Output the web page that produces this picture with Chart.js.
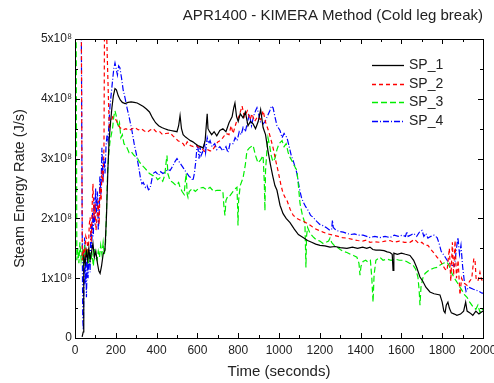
<!DOCTYPE html>
<html>
<head>
<meta charset="utf-8">
<script src="https://cdn.jsdelivr.net/npm/chart.js@4"></script>
<style>
  html, body { margin: 0; padding: 0; background: #fff; }
  #wrap { width: 494px; height: 383px; }
</style>
</head>
<body>
<div id="wrap"><canvas id="chart" width="494" height="383"></canvas></div>
<script>
// values in units of 1x10^8 J/s, time in seconds
const seriesNames = ['SP_1', 'SP_2', 'SP_3', 'SP_4'];
const xTicks = [0, 200, 400, 600, 800, 1000, 1200, 1400, 1600, 1800, 2000];
const yTicks = [0, 1, 2, 3, 4, 5];

const sp1 = [[35,0.02],[40,0.1],[43,1.35],[50,1.25],[56,1.45],[62,1.3],[68,1.5],[74,1.3],[80,1.42],[88,1.58],[95,1.35],[102,1.45],[110,1.25],[117,1.12],[123,1.08],[130,1.2],[138,1.4],[147,1.47],[155,2.1],[161,2.8],[167,3.3],[174,3.6],[181,3.85],[188,4.05],[196,4.17],[203,4.15],[212,4.05],[222,3.98],[232,3.94],[245,3.92],[260,3.94],[275,3.95],[290,3.94],[305,3.93],[320,3.9],[335,3.87],[350,3.83],[365,3.78],[380,3.68],[395,3.6],[410,3.55],[425,3.52],[440,3.5],[455,3.48],[470,3.47],[485,3.46],[500,3.45],[508,3.55],[515,3.72],[522,3.5],[530,3.4],[542,3.36],[554,3.33],[566,3.3],[578,3.28],[590,3.25],[602,3.22],[615,3.2],[628,3.18],[638,3.3],[645,3.62],[648,3.75],[652,3.5],[660,3.45],[670,3.4],[682,3.45],[695,3.38],[710,3.47],[725,3.5],[740,3.45],[755,3.6],[770,3.7],[778,3.85],[784,3.93],[792,3.7],[800,3.62],[810,3.75],[824,3.68],[835,3.78],[848,3.55],[860,3.62],[873,3.58],[885,3.5],[898,3.62],[910,3.82],[922,3.52],[934,3.4],[946,3.13],[958,2.9],[970,2.7],[980,2.55],[990,2.47],[1005,2.22],[1020,2.08],[1035,2.0],[1054,1.93],[1075,1.82],[1095,1.73],[1118,1.68],[1140,1.63],[1160,1.6],[1180,1.57],[1201,1.55],[1225,1.54],[1250,1.52],[1275,1.53],[1300,1.51],[1333,1.5],[1360,1.52],[1385,1.5],[1410,1.52],[1430,1.5],[1446,1.52],[1460,1.48],[1475,1.47],[1495,1.47],[1515,1.46],[1530,1.44],[1544,1.43],[1555,1.4],[1559,1.13],[1563,1.42],[1580,1.4],[1600,1.42],[1620,1.4],[1642,1.38],[1660,1.3],[1675,1.18],[1691,1.02],[1705,0.95],[1720,0.85],[1740,0.77],[1760,0.74],[1789,0.72],[1800,0.6],[1808,0.45],[1814,0.42],[1820,0.55],[1828,0.6],[1835,0.5],[1845,0.42],[1860,0.4],[1872,0.38],[1890,0.4],[1905,0.45],[1915,0.6],[1922,0.45],[1936,0.42],[1950,0.38],[1965,0.45],[1980,0.4],[2000,0.45]];

const sp2 = [[30,6],[36,1.3],[42,1.5],[48,1.35],[53,1.7],[59,1.63],[65,1.4],[70,1.9],[74,2.02],[80,1.6],[84,2.2],[88,2.58],[93,2.0],[98,2.25],[103,1.8],[108,2.02],[114,2.3],[118,1.9],[123,2.52],[128,2.3],[132,2.8],[137,2.6],[142,3.18],[146,6.2],[168,3.5],[175,3.6],[185,3.7],[195,3.68],[205,3.62],[220,3.52],[235,3.48],[250,3.5],[265,3.47],[280,3.5],[294,3.52],[310,3.48],[325,3.5],[340,3.46],[355,3.44],[370,3.48],[384,3.5],[400,3.44],[415,3.45],[430,3.4],[445,3.42],[466,3.43],[480,3.38],[490,3.35],[505,3.3],[520,3.27],[530,3.25],[539,3.2],[550,3.28],[565,3.22],[580,3.2],[595,3.22],[610,3.18],[622,3.17],[635,3.12],[650,3.15],[662,3.13],[672,3.13],[685,3.2],[700,3.28],[712,3.3],[725,3.35],[740,3.42],[755,3.4],[765,3.55],[775,3.42],[790,3.6],[805,3.72],[819,3.88],[830,3.7],[845,3.8],[858,3.65],[868,3.75],[880,3.62],[895,3.7],[910,3.65],[922,3.8],[935,3.6],[950,3.45],[962,3.3],[971,3.18],[983,2.98],[995,2.8],[1010,2.55],[1020,2.42],[1030,2.35],[1039,2.3],[1055,2.15],[1070,2.05],[1088,2.0],[1105,1.97],[1120,1.95],[1137,1.92],[1155,1.88],[1175,1.83],[1195,1.8],[1216,1.77],[1240,1.74],[1265,1.72],[1290,1.7],[1310,1.68],[1333,1.67],[1360,1.65],[1385,1.63],[1410,1.62],[1430,1.64],[1446,1.6],[1470,1.61],[1495,1.6],[1520,1.62],[1544,1.63],[1565,1.6],[1590,1.62],[1615,1.6],[1642,1.6],[1665,1.65],[1685,1.58],[1700,1.6],[1715,1.55],[1730,1.55],[1745,1.48],[1760,1.42],[1775,1.35],[1789,1.3],[1805,1.2],[1815,1.15],[1824,1.13],[1835,1.5],[1842,0.95],[1850,1.6],[1856,1.05],[1863,1.63],[1870,1.0],[1878,1.3],[1887,0.72],[1895,1.0],[1905,0.92],[1915,0.9],[1922,0.88],[1935,0.95],[1945,1.0],[1955,1.33],[1961,1.3],[1966,1.0],[1975,0.95],[1985,1.1],[1993,0.97],[2000,0.97]];

const sp3 = [[5,6],[9,1.3],[14,1.5],[19,1.25],[24,1.6],[30,1.3],[36,1.45],[42,1.2],[48,1.55],[54,1.35],[60,1.5],[66,1.25],[72,1.45],[78,1.3],[84,1.4],[90,1.2],[96,1.5],[102,1.35],[108,1.3],[114,1.45],[120,1.35],[126,1.55],[132,1.4],[138,1.6],[144,1.4],[150,1.6],[155,2.2],[160,2.8],[166,3.1],[172,3.3],[178,3.4],[184,3.5],[190,3.7],[196,3.8],[202,3.72],[211,3.52],[218,3.6],[225,3.35],[232,3.4],[240,3.25],[255,3.18],[265,3.1],[275,3.12],[290,3.05],[304,3.02],[315,2.95],[325,2.9],[340,2.85],[353,2.8],[365,2.75],[380,2.72],[395,2.7],[405,2.65],[417,2.68],[430,2.62],[440,2.72],[447,2.95],[451,3.05],[455,2.75],[466,2.63],[480,2.6],[495,2.55],[508,2.6],[515,2.52],[525,2.45],[535,2.4],[540,2.6],[545,2.75],[550,2.4],[554,2.35],[560,2.45],[575,2.5],[590,2.45],[605,2.5],[628,2.52],[645,2.48],[662,2.52],[680,2.45],[696,2.47],[711,2.47],[725,2.45],[730,2.2],[735,2.05],[740,2.3],[750,2.38],[760,2.38],[775,2.45],[787,2.5],[794,2.52],[797,2.2],[799,1.88],[802,2.3],[810,2.55],[824,2.68],[835,2.9],[843,3.13],[855,3.18],[873,3.22],[885,3.05],[897,2.93],[910,2.98],[922,3.05],[928,2.6],[931,2.13],[934,2.8],[940,3.1],[946,3.35],[955,3.2],[962,3.05],[970,2.95],[980,3.0],[990,3.15],[1000,3.25],[1015,3.3],[1025,3.2],[1035,3.25],[1045,3.1],[1054,3.02],[1065,2.95],[1075,2.88],[1088,2.8],[1095,2.55],[1103,2.25],[1115,2.05],[1127,1.92],[1130,1.5],[1132,1.18],[1135,1.7],[1140,1.85],[1152,1.75],[1165,1.7],[1180,1.65],[1200,1.62],[1216,1.58],[1230,1.6],[1243,1.62],[1250,1.67],[1258,1.6],[1270,1.55],[1285,1.52],[1300,1.48],[1315,1.45],[1333,1.43],[1350,1.4],[1365,1.38],[1382,1.35],[1392,1.25],[1397,1.05],[1402,1.2],[1412,1.28],[1425,1.3],[1436,1.27],[1448,1.3],[1455,1.0],[1461,0.6],[1466,1.05],[1475,1.3],[1495,1.35],[1510,1.3],[1530,1.32],[1550,1.3],[1570,1.32],[1590,1.3],[1608,1.3],[1625,1.28],[1640,1.25],[1657,1.22],[1670,1.15],[1681,1.02],[1687,0.8],[1691,0.55],[1696,0.85],[1705,1.0],[1716,1.08],[1730,1.12],[1745,1.15],[1760,1.17],[1775,1.18],[1790,1.22],[1805,1.25],[1824,1.27],[1835,1.2],[1845,1.1],[1860,1.0],[1875,0.92],[1887,0.85],[1900,0.78],[1910,0.72],[1922,0.68],[1935,0.6],[1951,0.52],[1965,0.48],[1975,0.55],[1985,0.43],[1992,0.5],[2000,0.47]];

const sp4 = [[30,6],[35,2.0],[38,0.3],[41,0.13],[44,1.0],[47,1.68],[50,0.9],[53,1.4],[56,0.68],[60,1.3],[64,1.0],[69,1.47],[74,1.1],[78,1.9],[82,1.5],[86,2.1],[90,1.7],[93,2.35],[97,1.9],[101,2.5],[105,2.1],[110,2.45],[114,1.8],[118,2.02],[122,2.7],[127,2.4],[132,3.18],[137,2.6],[142,3.0],[147,2.75],[152,3.2],[157,3.4],[162,3.3],[167,3.63],[172,3.9],[178,4.1],[184,4.3],[190,4.5],[196,4.6],[202,4.5],[208,4.4],[214,4.55],[220,4.52],[228,4.35],[236,4.15],[245,4.02],[255,3.85],[265,3.7],[279,3.47],[290,3.25],[304,3.02],[315,2.8],[322,2.65],[328,2.58],[335,2.6],[345,2.52],[353,2.55],[360,2.48],[368,2.5],[375,2.62],[382,2.75],[395,2.78],[410,2.72],[420,2.78],[431,2.75],[445,2.78],[455,2.82],[466,2.8],[480,2.88],[490,2.95],[500,3.0],[510,2.95],[520,2.9],[530,2.85],[539,2.8],[550,2.75],[560,2.7],[570,2.68],[578,2.63],[585,2.75],[592,2.95],[598,3.2],[603,3.18],[608,3.0],[613,3.2],[618,3.05],[628,3.13],[635,3.25],[640,3.1],[648,3.35],[655,3.25],[662,3.3],[672,3.2],[685,3.25],[695,3.15],[710,3.2],[725,3.13],[740,3.2],[750,3.1],[760,3.25],[775,3.25],[785,3.35],[795,3.3],[805,3.45],[815,3.4],[824,3.52],[835,3.45],[845,3.6],[855,3.75],[865,3.55],[875,3.7],[885,3.8],[892,3.85],[900,3.75],[910,3.6],[922,3.58],[932,3.62],[942,3.7],[955,3.8],[963,3.88],[971,3.85],[980,3.7],[990,3.55],[1005,3.47],[1015,3.35],[1025,3.42],[1039,3.35],[1050,3.2],[1060,3.05],[1069,2.97],[1080,2.85],[1088,2.75],[1100,2.5],[1110,2.35],[1118,2.28],[1130,2.2],[1145,2.12],[1155,2.05],[1167,2.02],[1185,1.95],[1200,1.9],[1215,1.88],[1230,1.85],[1250,1.8],[1258,1.82],[1262,1.97],[1266,1.85],[1280,1.8],[1300,1.78],[1315,1.77],[1333,1.75],[1350,1.73],[1370,1.74],[1390,1.72],[1412,1.72],[1430,1.7],[1446,1.68],[1470,1.7],[1495,1.68],[1520,1.7],[1544,1.68],[1565,1.72],[1585,1.7],[1605,1.72],[1620,1.7],[1627,1.78],[1633,1.7],[1645,1.72],[1660,1.75],[1675,1.7],[1690,1.78],[1701,1.8],[1710,1.7],[1720,1.75],[1730,1.67],[1745,1.7],[1760,1.72],[1775,1.68],[1785,1.58],[1795,1.45],[1805,1.4],[1815,1.35],[1824,1.3],[1835,1.25],[1845,1.22],[1860,1.2],[1870,1.5],[1877,1.68],[1885,1.4],[1892,1.55],[1900,1.2],[1910,0.9],[1917,0.78],[1930,0.85],[1950,0.82],[1965,0.8],[1980,0.78],[1995,0.75],[2000,0.75]];

const colors = ['#000000', '#ff0000', '#00ee00', '#0000ff'];
const dashes = [[], [4, 3], [6, 3], [6, 2, 1, 2]];
const allSeries = [sp1, sp2, sp3, sp4];

const FONT = '"Liberation Sans", Arial, sans-serif';

const datasets = allSeries.map((s, i) => ({
    label: seriesNames[i],
    data: s.map(p => ({ x: p[0], y: p[1] })),
    borderColor: colors[i],
    borderWidth: 1.2,
    borderDash: dashes[i],
    pointRadius: 0,
    tension: 0,
    fill: false
}));

// inward tick marks, frame and in-plot legend
const framePlugin = {
    id: 'frame',
    afterDraw(chart) {
        const ctx = chart.ctx;
        const a = chart.chartArea;
        const xs = chart.scales.x, ys = chart.scales.y;
        ctx.save();
        ctx.strokeStyle = '#000';
        ctx.lineWidth = 1;
        ctx.strokeRect(Math.round(a.left) + 0.5, Math.round(a.top) + 0.5,
            Math.round(a.right - a.left), Math.round(a.bottom - a.top));
        ctx.beginPath();
        for (let v = 0; v <= 5; v += 0.5) {
            const y = Math.round(ys.getPixelForValue(v)) + 0.5;
            const len = Number.isInteger(v) ? 5 : 3;
            ctx.moveTo(a.left, y); ctx.lineTo(a.left + len, y);
            ctx.moveTo(a.right, y); ctx.lineTo(a.right - len, y);
        }
        for (let t = 0; t <= 2000; t += 100) {
            const x = Math.round(xs.getPixelForValue(t)) + 0.5;
            const len = t % 200 === 0 ? 5 : 3;
            ctx.moveTo(x, a.bottom); ctx.lineTo(x, a.bottom - len);
            ctx.moveTo(x, a.top); ctx.lineTo(x, a.top + len);
        }
        ctx.stroke();

        // legend
        ctx.font = '14px ' + FONT;
        ctx.textBaseline = 'middle';
        ctx.textAlign = 'left';
        seriesNames.forEach((name, i) => {
            const y = 65.5 + Math.round(i * 18.5);
            ctx.beginPath();
            ctx.strokeStyle = colors[i];
            ctx.lineWidth = 1.3;
            ctx.setLineDash(dashes[i]);
            ctx.moveTo(372, y); ctx.lineTo(404, y);
            ctx.stroke();
            ctx.setLineDash([]);
            ctx.fillStyle = '#222';
            ctx.fillText(name, 409, y);
        });
        ctx.restore();
    }
};

new Chart(document.getElementById('chart'), {
    type: 'line',
    data: { datasets },
    options: {
        responsive: false,
        animation: false,
        layout: { padding: { left: 0, right: 11, top: 0, bottom: 0 } },
        plugins: {
            legend: { display: false },
            tooltip: { enabled: false },
            title: {
                display: true,
                text: 'APR1400 - KIMERA Method (Cold leg break)',
                align: 'end',
                color: '#222',
                font: { family: FONT, size: 15, weight: 'normal' },
                padding: { top: 7, bottom: 14 }
            }
        },
        scales: {
            x: {
                type: 'linear',
                min: 0, max: 2000,
                grid: { display: false, drawTicks: false },
                border: { display: false },
                afterBuildTicks: s => { s.ticks = xTicks.map(v => ({ value: v })); },
                afterFit: s => { s.height = 45; s.paddingRight = 0; s.paddingLeft = 0; },
                ticks: {
                    color: '#222', padding: 5, maxRotation: 0, autoSkip: false,
                    font: { family: FONT, size: 12 },
                    callback: v => String(v)
                },
                title: {
                    display: true, text: 'Time (seconds)', color: '#222',
                    font: { family: FONT, size: 15 }, padding: 2
                }
            },
            y: {
                min: 0, max: 5,
                grid: { display: false, drawTicks: false },
                border: { display: false },
                afterBuildTicks: s => { s.ticks = yTicks.map(v => ({ value: v })); },
                afterFit: s => { s.width = 75; s.paddingTop = 0; s.paddingBottom = 0; },
                ticks: {
                    color: '#222', padding: 3,
                    font: { family: FONT, size: 12 },
                    callback: v => v === 0 ? '0' : v + 'x10\u2078'
                },
                title: {
                    display: true, text: 'Steam Energy Rate (J/s)', color: '#222',
                    font: { family: FONT, size: 14.5 }, padding: 11
                }
            }
        }
    },
    plugins: [framePlugin]
});
</script>
</body>
</html>
